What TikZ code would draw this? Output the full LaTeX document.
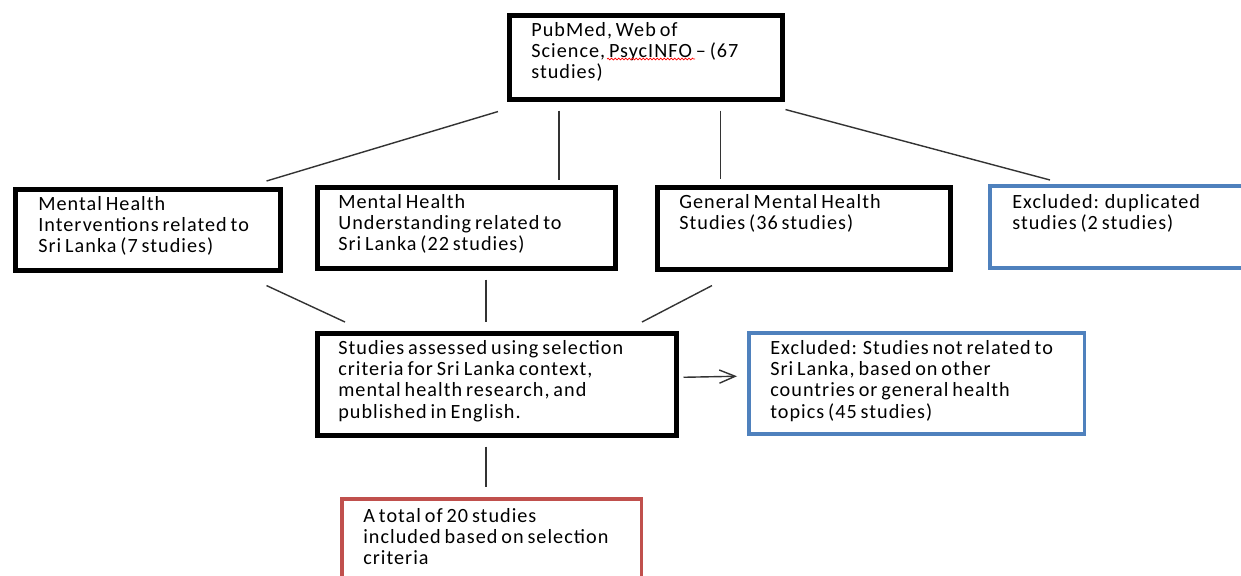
\documentclass[tikz,border=0pt]{standalone}
\usepackage{fontspec}
\setmainfont{Carlito}[LetterSpace=5, WordSpace=0.7]
\usetikzlibrary{arrows.meta, calc, decorations.pathmorphing}
\definecolor{boxblue}{HTML}{4F81BD}
\definecolor{boxred}{HTML}{C0504D}
\definecolor{linkgray}{HTML}{333333}

\begin{document}
\begin{tikzpicture}[
  x=0.02cm, y=-0.02cm,
  thickbox/.style={rectangle, draw=black, line width=2.6pt, inner sep=0pt, anchor=north west},
  bluebox/.style={rectangle, draw=boxblue, line width=2pt, inner sep=0pt, anchor=north west},
  redbox/.style={rectangle, draw=boxred, line width=2pt, inner sep=0pt, anchor=north west},
  boxtext/.style={anchor=north west, inner sep=0pt, align=left, font=\fontsize{11.5}{12.1}\selectfont},
  link/.style={draw=linkgray, line width=0.8pt},
  arrow/.style={link, -{Straight Barb[length=9pt, width=7.5pt]}},
  spellwave/.style={draw=red, line width=0.4pt, decorate, decoration={snake, amplitude=0.5pt, segment length=2pt}},
]
  \useasboundingbox (0,0) rectangle (1241,575);
  \clip (0,0) rectangle (1241,575);

  % frames
  \node[thickbox, minimum width=5.46cm, minimum height=1.68cm] (top) at (507,13) {};
  \node[thickbox, minimum width=5.30cm, minimum height=1.62cm] (interv) at (13,187) {};
  \node[thickbox, minimum width=5.96cm, minimum height=1.62cm] (underst) at (315,185) {};
  \node[thickbox, minimum width=5.86cm, minimum height=1.64cm] (general) at (655,185) {};
  \node[bluebox, minimum width=6.00cm, minimum height=1.64cm] (dupl) at (988,184) {};
  \node[thickbox, minimum width=7.18cm, minimum height=2.04cm] (assess) at (315,331) {};
  \node[bluebox, minimum width=6.72cm, minimum height=2.02cm] (notsl) at (747,331) {};
  \node[redbox, minimum width=6.00cm, minimum height=2.00cm] (final) at (340,497) {};

  % texts
  \node[boxtext] (top-t) at (531,22) {PubMed, Web of\\Science, PsycINFO – (67\\studies)};
  \node[boxtext] (interv-t) at (38,196) {Mental Health\\Interventions related to\\Sri Lanka (7 studies)};
  \node[boxtext] (underst-t) at (338,194) {Mental Health\\Understanding related to\\Sri Lanka (22 studies)};
  \node[boxtext] (general-t) at (679,194) {General Mental Health\\Studies (36 studies)};
  \node[boxtext] (dupl-t) at (1012,194) {Excluded: duplicated\\studies (2 studies)};
  \node[boxtext] (assess-t) at (338,340) {Studies assessed using selection\\criteria for Sri Lanka context,\\mental health research, and\\published in English.};
  \node[boxtext] (notsl-t) at (770,340) {Excluded: Studies not related to\\Sri Lanka, based on other\\countries or general health\\topics (45 studies)};
  \node[boxtext] (final-t) at (363,508) {A total of 20 studies\\included based on selection\\criteria};
  \draw[spellwave] ($(top-t.north west)+(76,37)$) -- ($(top-t.north west)+(164,37)$);

  % connectors
  \draw[link] ($(top.south west)+(-9,10)$) -- ($(interv.north east)+(-16,-6)$);
  \draw[link] ($(top.south west)+(52,9)$) -- ($(top.south west |- underst.north)+(52,-5)$);
  \draw[link] ($(top.south east)+(-64,9)$) -- ($(top.south east |- general.north)+(-64,-6)$);
  \draw[link] ($(top.south east)+(1,8)$) -- ($(dupl.north west)+(62,-4)$);
  \draw[link] ($(interv.south east)+(-16,13)$) -- ($(assess.north west)+(30,-9)$);
  \draw[link] ($(assess.north west |- underst.south)+(171,9)$) -- ($(assess.north west)+(171,-9)$);
  \draw[link] ($(general.south west)+(57,14)$) -- ($(assess.north west)+(327,-9)$);
  \draw[arrow] ($(assess.east)+(5,-7)$) -- ($(notsl.west)+(-10,-7)$);
  \draw[link] ($(assess.south west)+(171,9)$) -- ($(assess.south west |- final.north)+(171,-10)$);
\end{tikzpicture}
\end{document}
